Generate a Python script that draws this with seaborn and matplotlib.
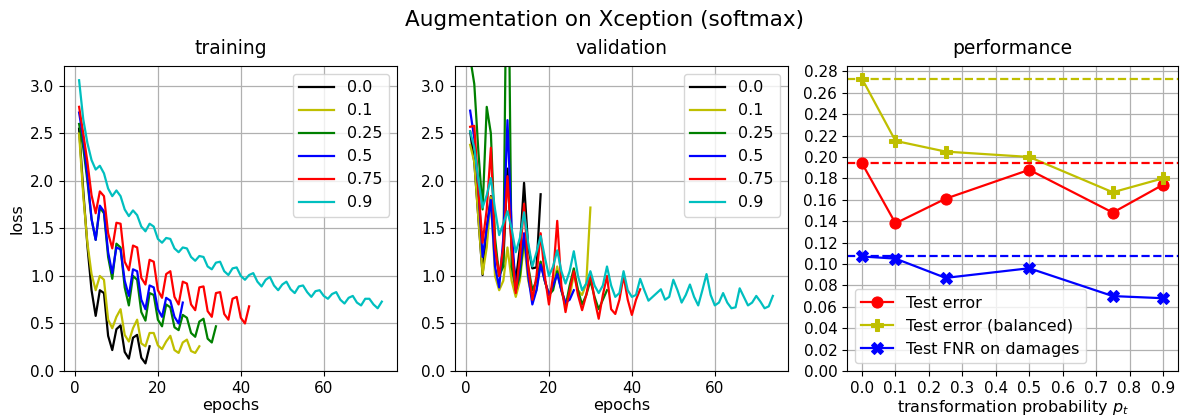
#!/usr/bin/env python3

import numpy as np
import pandas as pd
import matplotlib
matplotlib.use("Agg")
import matplotlib.pyplot as plt
import seaborn as sns

# transformation probabilities used for the runs
probs = ["0.0", "0.1", "0.25", "0.5", "0.75", "0.9"]
colors = ["k", "y", "g", "b", "r", "c"]

# training loss per epoch
train_00 = [2.55, 1.90, 1.32, 0.85, 0.58, 0.85, 0.82, 0.37, 0.22, 0.44, 0.48, 0.20,
            0.13, 0.35, 0.38, 0.14, 0.08, 0.26]
train_01 = [2.50, 1.85, 1.35, 1.02, 0.85, 1.00, 0.96, 0.54, 0.45, 0.57, 0.65, 0.38,
            0.31, 0.45, 0.54, 0.29, 0.26, 0.40, 0.40, 0.27, 0.23, 0.31, 0.37, 0.22,
            0.19, 0.30, 0.33, 0.21, 0.19, 0.26]
train_025 = [2.60, 2.35, 2.00, 1.60, 1.38, 1.72, 1.66, 1.20, 0.97, 1.34, 1.30, 0.88,
             0.69, 1.00, 0.96, 0.62, 0.53, 0.82, 0.80, 0.54, 0.47, 0.70, 0.67, 0.46,
             0.43, 0.59, 0.56, 0.40, 0.36, 0.52, 0.55, 0.34, 0.30, 0.47]
train_05 = [2.72, 2.45, 2.05, 1.60, 1.38, 1.74, 1.68, 1.25, 1.03, 1.30, 1.28, 0.95,
            0.79, 1.07, 1.05, 0.75, 0.65, 0.90, 0.88, 0.65, 0.57, 0.77, 0.74, 0.57,
            0.50, 0.72]
train_075 = [2.78, 2.50, 2.20, 1.85, 1.66, 1.89, 1.84, 1.45, 1.29, 1.56, 1.55, 1.15,
             1.06, 1.32, 1.30, 0.98, 0.91, 1.17, 1.15, 0.85, 0.77, 1.02, 1.05, 0.78,
             0.70, 0.94, 0.92, 0.70, 0.64, 0.88, 0.89, 0.63, 0.57, 0.82, 0.83, 0.60,
             0.54, 0.76, 0.78, 0.56, 0.50, 0.68]
train_09 = [3.06, 2.65, 2.40, 2.22, 2.12, 2.16, 2.08, 1.92, 1.84, 1.90, 1.84, 1.70,
            1.63, 1.69, 1.64, 1.52, 1.47, 1.55, 1.52, 1.39, 1.35, 1.40, 1.39, 1.29,
            1.25, 1.30, 1.29, 1.20, 1.16, 1.21, 1.20, 1.10, 1.07, 1.14, 1.15, 1.05,
            1.01, 1.08, 1.09, 1.00, 0.96, 1.01, 1.03, 0.94, 0.89, 0.96, 0.99, 0.90,
            0.85, 0.91, 0.94, 0.86, 0.82, 0.89, 0.90, 0.83, 0.78, 0.84, 0.85, 0.79,
            0.76, 0.81, 0.83, 0.75, 0.71, 0.77, 0.79, 0.72, 0.69, 0.76, 0.76, 0.70,
            0.66, 0.73]

# validation loss per epoch
val_00 = [2.52, 2.20, 1.60, 1.01, 1.50, 1.84, 1.30, 1.00, 1.15, 2.13, 1.30, 0.95,
          1.30, 1.98, 1.30, 1.08, 1.09, 1.86]
val_01 = [2.38, 2.20, 1.60, 1.02, 1.30, 1.83, 1.00, 0.85, 0.95, 1.30, 0.95, 0.78,
          0.95, 1.35, 0.95, 0.78, 0.85, 1.15, 0.95, 0.80, 0.90, 1.10, 0.85, 0.72,
          0.78, 1.02, 0.85, 0.80, 0.92, 1.72]
val_025 = [3.30, 3.02, 2.30, 1.70, 2.78, 2.50, 1.40, 1.00, 1.10, 5.30, 1.10, 0.85,
           1.00, 1.40, 1.10, 0.85, 0.95, 1.15, 0.95, 0.80, 0.85, 1.05, 0.85, 0.68,
           0.90, 1.08, 0.85, 0.70, 0.80, 0.95, 0.78, 0.65, 0.75, 0.85]
val_05 = [2.74, 2.45, 1.90, 1.20, 1.50, 1.80, 1.10, 0.88, 1.40, 2.64, 1.50, 0.85,
          1.10, 1.45, 1.00, 0.70, 0.85, 1.12, 0.95, 0.80, 0.90, 1.02, 0.85, 0.72,
          0.75, 0.85]
val_075 = [2.57, 2.58, 1.90, 1.35, 1.70, 2.35, 1.30, 1.00, 1.30, 2.05, 1.30, 0.82,
           1.20, 1.76, 1.10, 0.75, 1.00, 1.45, 1.00, 0.70, 1.00, 1.58, 0.90, 0.62,
           0.85, 1.05, 0.80, 0.64, 0.80, 1.03, 0.75, 0.55, 0.80, 1.00, 0.65, 0.60,
           0.75, 1.00, 0.75, 0.59, 0.75, 0.86]
val_09 = [2.52, 2.35, 2.00, 1.72, 1.85, 2.03, 1.70, 1.43, 1.55, 1.68, 1.50, 1.25,
          1.40, 1.67, 1.35, 1.10, 1.25, 1.42, 1.20, 1.00, 1.10, 1.27, 1.05, 0.92,
          1.05, 1.26, 1.00, 0.85, 0.92, 1.05, 0.90, 0.82, 0.90, 1.10, 0.90, 0.78,
          0.82, 1.05, 0.85, 0.78, 0.80, 0.97, 0.85, 0.74, 0.78, 0.82, 0.86, 0.75,
          0.78, 0.96, 0.85, 0.72, 0.80, 0.91, 0.78, 0.69, 0.85, 1.02, 0.80, 0.69,
          0.72, 0.82, 0.72, 0.66, 0.67, 0.87, 0.78, 0.69, 0.72, 0.79, 0.73, 0.66,
          0.68, 0.79]

# test performance vs transformation probability
p_t = [0.0, 0.1, 0.25, 0.5, 0.75, 0.9]
test_error = [0.194, 0.138, 0.161, 0.188, 0.148, 0.174]
test_error_bal = [0.273, 0.215, 0.205, 0.200, 0.167, 0.180]
test_fnr = [0.107, 0.105, 0.087, 0.096, 0.070, 0.068]

train_runs = [train_00, train_01, train_025, train_05, train_075, train_09]
val_runs = [val_00, val_01, val_025, val_05, val_075, val_09]


def long_frame(runs):
    rows = []
    for p, vals in zip(probs, runs):
        for e, v in enumerate(vals, start=1):
            rows.append({"epoch": e, "loss": v, "p": p})
    return pd.DataFrame(rows)


plt.rcParams["font.family"] = ["DejaVu Sans"]
fig = plt.figure(figsize=(11.8, 4.2), dpi=100)
ax1 = fig.add_axes([0.0542, 0.1167, 0.2822, 0.7262])
ax2 = fig.add_axes([0.3856, 0.1167, 0.2822, 0.7262])
ax3 = fig.add_axes([0.7178, 0.1167, 0.2805, 0.7262])

palette = dict(zip(probs, colors))

for ax, runs, title in [(ax1, train_runs, "training"), (ax2, val_runs, "validation")]:
    df = long_frame(runs)
    sns.lineplot(data=df, x="epoch", y="loss", hue="p", hue_order=probs,
                 palette=palette, linewidth=1.6, ax=ax)
    ax.set_ylim(0, 3.21)
    ax.set_yticks(np.arange(0, 3.01, 0.5))
    ax.set_xticks([0, 20, 40, 60])
    ax.set_title(title, fontsize=13.5, pad=8.5)
    ax.set_xlabel("epochs", fontsize=11.5, labelpad=2)
    ax.set_ylabel("")
    ax.grid(True, color="#b0b0b0", linewidth=0.9)
    ax.tick_params(labelsize=11)
    ax.legend(loc="upper right", fontsize=11.5, handlelength=2.2)
ax1.set_ylabel("loss", fontsize=11.5)

# performance panel
sns.lineplot(x=p_t, y=test_error, color="r", marker="o", markersize=8,
             markeredgecolor="r", linewidth=1.6, label="Test error", ax=ax3)
sns.lineplot(x=p_t, y=test_error_bal, color="y", marker="P", markersize=8,
             markeredgecolor="y", linewidth=1.6, label="Test error (balanced)", ax=ax3)
sns.lineplot(x=p_t, y=test_fnr, color="b", marker="X", markersize=8,
             markeredgecolor="b", linewidth=1.6, label="Test FNR on damages", ax=ax3)
ax3.axhline(test_error[0], color="r", linestyle="--", linewidth=1.6)
ax3.axhline(test_error_bal[0], color="y", linestyle="--", linewidth=1.6)
ax3.axhline(test_fnr[0], color="b", linestyle="--", linewidth=1.6)
ax3.set_xlim(-0.045, 0.945)
ax3.set_ylim(0, 0.285)
ax3.set_xticks(np.arange(0, 0.91, 0.1))
ax3.set_yticks(np.arange(0, 0.281, 0.02))
ax3.set_title("performance", fontsize=13.5, pad=8.5)
ax3.set_xlabel("transformation probability $p_t$", fontsize=11.5, labelpad=2)
ax3.grid(True, color="#b0b0b0", linewidth=0.9)
ax3.tick_params(labelsize=11)
ax3.legend(loc="lower left", fontsize=11.5)

fig.suptitle("Augmentation on Xception (softmax)", fontsize=15.5, x=0.512, y=0.975)

plt.savefig("out.png", dpi=100)
